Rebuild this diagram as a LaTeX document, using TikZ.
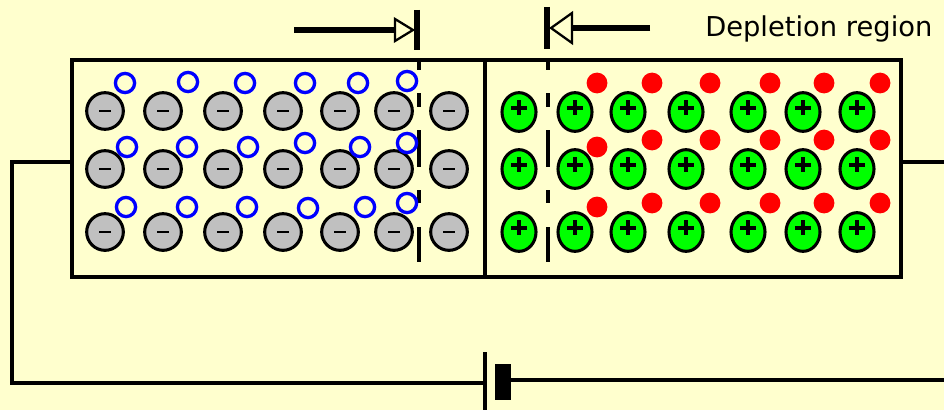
\documentclass[tikz,border=0pt]{standalone}
\usepackage{fontspec}
\setmainfont{DejaVu Sans}
\usetikzlibrary{shapes.geometric}
\definecolor{paper}{RGB}{255,255,206}
\definecolor{ptype}{RGB}{192,192,192}
\definecolor{ntype}{RGB}{0,255,0}
\definecolor{holeblue}{RGB}{0,0,255}
\definecolor{elecred}{RGB}{255,0,0}

\begin{document}
\begin{tikzpicture}[x=0.75pt,y=-0.75pt,
  wire/.style={line width=2.8pt},
  frame/.style={line width=2.8pt},
  junction/.style={line width=3pt},
  accept/.style={ellipse,draw,line width=2.3pt,fill=ptype,inner sep=0pt,minimum width=27.5pt,minimum height=27.5pt},
  donor/.style={ellipse,draw,line width=2.3pt,fill=ntype,inner sep=0pt,minimum width=25.5pt,minimum height=29pt},
  sign/.style={line width=2.6pt},
  hole/.style={draw=holeblue,line width=2.5pt},
  electron/.style={fill=elecred},
  shaft/.style={line width=4.5pt},
  head/.style={line width=1.7pt,fill=paper,line join=miter},
  barline/.style={line width=5pt}]
\useasboundingbox (0,0) rectangle (944,410);
\fill[paper] (0,0) rectangle (944,410);

% the crystal, p side left and n side right
\draw[frame] (72,60) rectangle (901,277);
\draw[frame] (485,60) -- (485,277);

% edges of the depletion region
\foreach \a/\b in {60/70,93/107,130/167,190/203,227/262}{
  \draw[junction] (419,\a) -- (419,\b);
  \draw[junction] (548,\a) -- (548,\b);
}

% acceptor ions with their holes
\foreach \y [count=\r] in {111,169,232}{
  \foreach \x [count=\c] in {105,163,223,283,340,394,449}{
    \node[accept] (a-\r-\c) at (\x,\y) {};
    \draw[sign,line width=2pt] (a-\r-\c.center) ++(-6,0) -- ++(12,0);
  }
}
\foreach \x/\y in {125/83,188/82,245/83,305/83,358/83,407/81,
                   127/147,187/147,248/147,305/143,360/147,407/143,
                   126/207,187/207,247/207,308/208,365/207,407/203}
  \draw[hole] (\x,\y) circle (7.2pt);

% donor ions with their free electrons
\foreach \y [count=\r] in {112,169,232}{
  \foreach \x [count=\c] in {519,575,628,686,748,803,857}{
    \node[donor] (d-\r-\c) at (\x,\y) {};
    \draw[sign] (d-\r-\c.center) ++(-8,-4) -- ++(16,0);
    \draw[sign] (d-\r-\c.center) ++(0,-12) -- ++(0,15);
  }
}
\foreach \x/\y in {597/83,652/83,710/83,770/83,824/83,880/83,
                   597/147,652/140,710/140,770/140,824/140,880/140,
                   597/207,652/203,710/203,770/203,824/203,880/203}
  \fill[electron] (\x,\y) circle (7.8pt);

% arrows closing in on the junction
\coordinate (arr-l) at (294,30);
\coordinate (bar-l) at (417,30);
\coordinate (arr-r) at (650,28);
\coordinate (bar-r) at (547,28);
\draw[shaft] (arr-l) -- ([xshift=-16.5pt]bar-l);
\draw[head] (bar-l) ++(-22,-11) -- ++(18,11) -- ++(-18,11) -- cycle;
\draw[barline] (bar-l) ++(0,-20) -- ++(0,40);
\draw[shaft] (arr-r) -- ([xshift=18.75pt]bar-r);
\draw[head] (bar-r) ++(25,-15) -- ++(-21,15) -- ++(21,15) -- cycle;
\draw[barline] (bar-r) ++(0,-21) -- ++(0,42);
\node[anchor=base west,inner sep=0pt,font=\fontsize{20.5pt}{24pt}\selectfont] (lbl) at (705,37) {Depletion region};

% battery and leads
\coordinate (pin-l) at (72,162);
\coordinate (pin-r) at (901,162);
\coordinate (turn) at (12,383);
\coordinate (bat-n) at (485,383);
\coordinate (bat-p) at (511,380);
\coordinate (edge-r) at (944,162);
\coordinate (edge-b) at (944,380);
\draw[wire] (pin-l) -| (turn) -- (bat-n);
\draw[wire] (pin-r) -- (edge-r);
\draw[wire] (bat-p) -- (edge-b);
\draw[frame] (485,352) -- (485,410);
\fill (495,364) rectangle (511,400);
\end{tikzpicture}
\end{document}
